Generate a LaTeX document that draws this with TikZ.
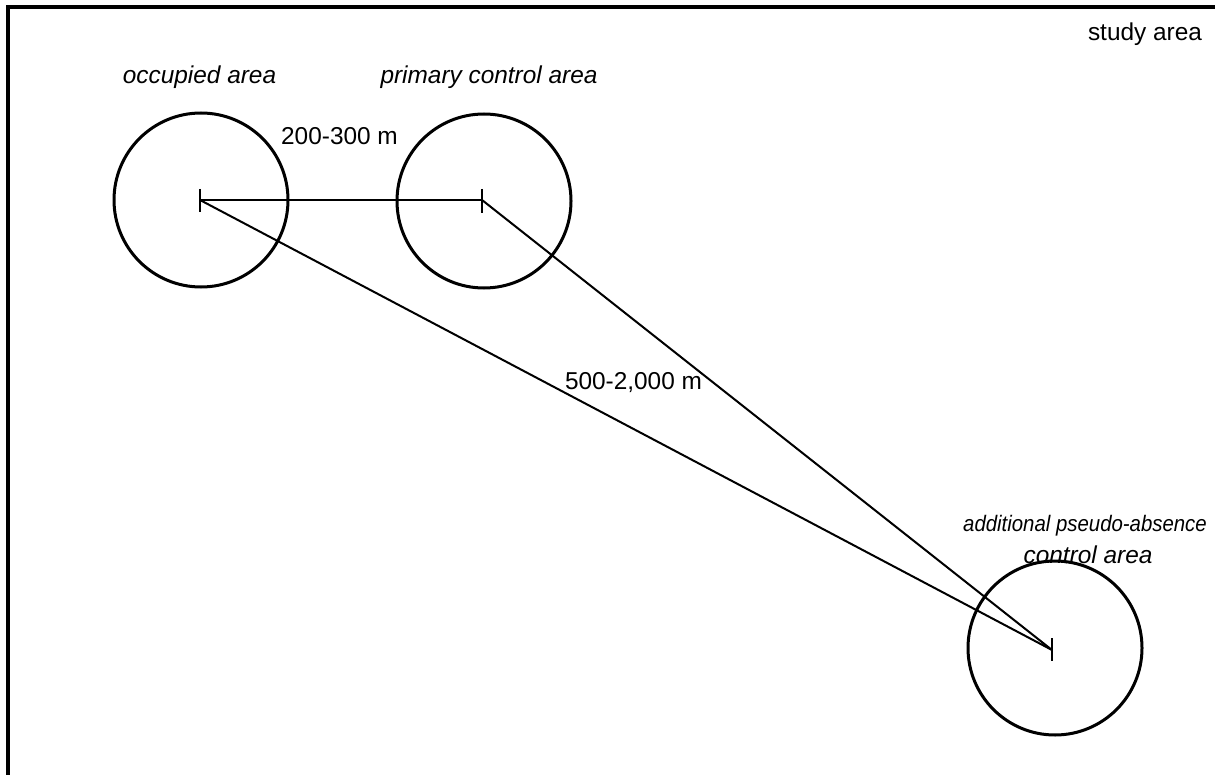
\documentclass[tikz,border=0pt]{standalone}
\usepackage{fontspec}
\setmainfont{Liberation Sans}
\begin{document}
\begin{tikzpicture}[x=0.5pt,y=-0.5pt,
  area/.style={circle,draw,line width=1.5pt,minimum size=87pt,inner sep=0pt},
  conn/.style={line width=1pt},
  tickmark/.style={line width=1pt},
  lbl/.style={font=\fontsize{12.2}{14.6}\selectfont,inner sep=0pt},
  ilbl/.style={lbl,font=\fontsize{12.2}{14.6}\selectfont\itshape}]
\useasboundingbox (0,0) rectangle (1215,775);
% study area frame (only top and left edges visible)
\draw[line width=2pt] (8,780) -- (8,7) -- (1220,7);
\node[lbl,anchor=base] (study) at (1145,41) {study area};
% areas
\node[area] (occ) at (201,200) {};
\node[area] (prim) at (484,201) {};
\node[area] (add) at (1055,648) {};
% measurement points
\coordinate (po) at (200,200);
\coordinate (pp) at (482,200);
\coordinate (pa) at (1052,650);
% ticks
\draw[tickmark] (200,189) -- (200,212);
\draw[tickmark] (482,189) -- (482,213);
\draw[tickmark] (1052,638) -- (1052,661);
% connectors
\draw[conn] (po) -- (pp);
\draw[conn] (po) -- (pa);
\draw[conn] (pp) -- (pa);
% labels
\node[ilbl,anchor=base] (locc) at (199.5,84) {occupied area};
\node[ilbl,anchor=base] (lprim) at (489,84) {primary control area};
\node[lbl,anchor=base] (d1) at (339.5,145) {200-300 m};
\node[lbl,anchor=base] (d2) at (633.5,389) {500-2,000 m};
\node[ilbl,anchor=base,font=\fontsize{11.2}{13}\selectfont\itshape] (ladd1) at (1085,531) {\scalebox{0.91}[1]{additional pseudo-absence}};
\node[ilbl,anchor=base] (ladd2) at (1088,563) {control area};
\end{tikzpicture}
\end{document}
